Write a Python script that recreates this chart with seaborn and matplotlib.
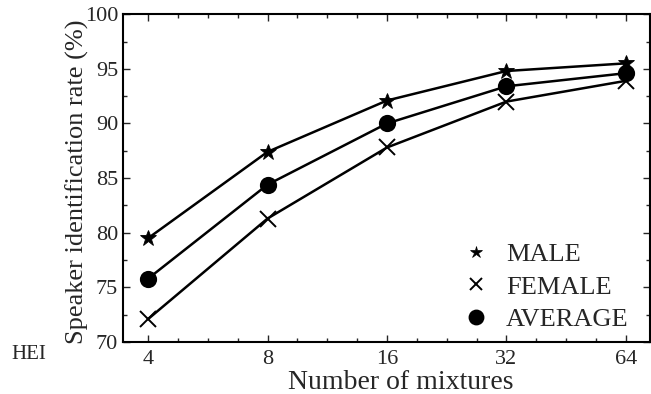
import numpy as np
import pandas as pd
import matplotlib
matplotlib.use("Agg")
import matplotlib.pyplot as plt
from matplotlib.lines import Line2D
from matplotlib.ticker import MultipleLocator
import seaborn as sns

# data
mixtures = ["4", "8", "16", "32", "64"]
male = [79.5, 87.4, 92.1, 94.8, 95.5]
female = [72.1, 81.3, 87.8, 92.0, 93.9]
average = [75.8, 84.4, 90.0, 93.4, 94.6]

series = {"MALE": male, "FEMALE": female, "AVERAGE": average}
markers = {"MALE": "*", "FEMALE": "x", "AVERAGE": "o"}
msizes = {"MALE": 12, "FEMALE": 12, "AVERAGE": 11}
leg_sizes = {"MALE": 9, "FEMALE": 9, "AVERAGE": 10}

rows = []
for name, vals in series.items():
    for i, v in enumerate(vals):
        rows.append({"idx": i, "rate": v, "group": name})
df = pd.DataFrame(rows)

sns.set_style("ticks")
plt.rcParams["font.family"] = ["Liberation Serif", "DejaVu Serif"]

fig = plt.figure(figsize=(6.51, 3.94), dpi=100)
ax = fig.add_axes([0.189, 0.132, 0.809, 0.832])

for name in series:
    sub = df[df["group"] == name]
    sns.lineplot(data=sub, x="idx", y="rate", ax=ax, color="black", linewidth=1.8,
                 marker=markers[name], markersize=msizes[name],
                 markeredgewidth=1.4 if name != "MALE" else 0.6,
                 markeredgecolor="black", markerfacecolor="black",
                 legend=False)

ax.set_xlim(-0.21, 4.2)
ax.set_ylim(70, 100)
ax.set_xticks(range(len(mixtures)))
ax.set_xticklabels(mixtures)
ax.xaxis.set_minor_locator(MultipleLocator(0.25))
ax.yaxis.set_major_locator(MultipleLocator(5))
ax.yaxis.set_minor_locator(MultipleLocator(2.5))
ax.tick_params(which="both", direction="in", top=True, right=True, labelsize=16, width=1)
ax.tick_params(axis="x", pad=6)
ax.tick_params(which="major", length=5)
ax.tick_params(which="minor", length=3)
for s in ax.spines.values():
    s.set_linewidth(1.5)
    s.set_color("black")

ax.set_xlabel("Number of mixtures", fontsize=20)
ax.set_ylabel("Speaker identification rate (%)", fontsize=19)
ax.xaxis.set_label_coords(0.528, -0.085)
ax.yaxis.set_label_coords(-0.065, 0.49)

handles = [Line2D([], [], linestyle="none", color="black", marker=markers[n],
                  markersize=leg_sizes[n], markeredgewidth=1.4 if n != "MALE" else 0.5)
           for n in series]
ax.legend(handles, list(series), loc="lower right", frameon=False, fontsize=19,
          handletextpad=0.55, labelspacing=0.35, handlelength=1.2,
          bbox_to_anchor=(1.005, -0.04))

fig.text(0.018, 0.09, "HEI", fontsize=15)

fig.savefig("out.png", dpi=100)
